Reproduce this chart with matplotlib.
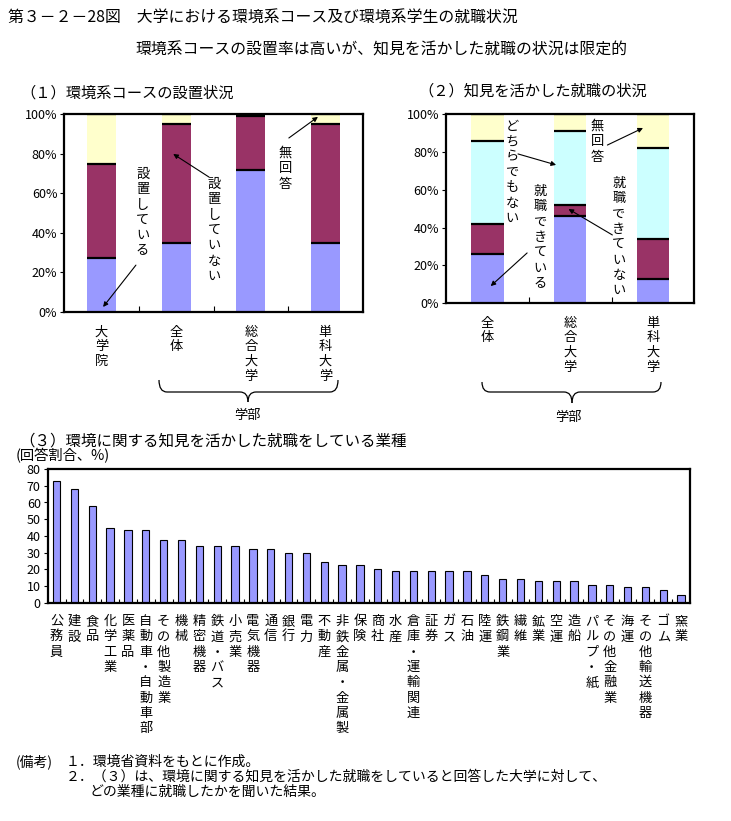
import numpy as np
import matplotlib.pyplot as plt
from matplotlib.path import Path
from matplotlib.patches import PathPatch

plt.rcParams['font.family'] = ['Noto Sans CJK JP', 'DejaVu Sans']

W, H = 731, 821
PT = 72 / 100  # pixel -> point at dpi 100

# (1) 環境系コースの設置状況 (%)
p1_cats = ['大学院', '全体', '総合大学', '単科大学']
p1_yes = [27, 35, 72, 35]
p1_no = [48, 60, 27, 60]
p1_na = [25, 5, 1, 5]

# (2) 知見を活かした就職の状況 (%)
p2_cats = ['全体', '総合大学', '単科大学']
p2_yes = [26, 46, 13]
p2_no = [16, 6, 21]
p2_neither = [44, 39, 48]
p2_na = [14, 9, 18]

# (3) 業種 (回答割合、%)
p3_cats = ['公務員', '建設', '食品', '化学工業', '医薬品', '自動車・自動車部',
           'その他製造業', '機械', '精密機器', '鉄道・バス', '小売業', '電気機器',
           '通信', '銀行', '電力', '不動産', '非鉄金属・金属製', '保険', '商社',
           '水産', '倉庫・運輸関連', '証券', 'ガス', '石油', '陸運', '鉄鋼業',
           '繊維', '鉱業', '空運', '造船', 'パルプ・紙', 'その他金融業', '海運',
           'その他輸送機器', 'ゴム', '窯業']
p3_vals = [73, 68, 58, 45, 43.5, 43.5, 37.5, 37.5, 34, 34, 34, 32, 32, 30, 30,
           24.5, 22.5, 22.5, 20.5, 19, 19, 19, 19, 19, 16.5, 14.5, 14.5, 13, 13,
           13, 11, 11, 9.5, 9.5, 7.5, 5]

BLUE = '#9999FF'
MAROON = '#993366'
YELLOW = '#FFFFCC'
CYAN = '#CCFFFF'

fig = plt.figure(figsize=(W / 100, H / 100), dpi=100)


def add_ax(l, t, r, b):
    return fig.add_axes([l / W, 1 - b / H, (r - l) / W, (b - t) / H])


def vtext(ax, x, y, s, coords='data', pitch=15.3, fs=9.5):
    for k, ch in enumerate(s):
        ax.annotate(ch, xy=(x, y), xycoords=coords, xytext=(0, -k * pitch * PT),
                    textcoords='offset points', ha='center', va='top',
                    fontsize=fs, annotation_clip=False)


def arrow(ax, tail, head):
    ax.annotate('', xy=head, xytext=tail, annotation_clip=False,
                arrowprops=dict(arrowstyle='-|>', color='black', lw=0.8,
                                mutation_scale=7, shrinkA=0, shrinkB=0))


def stacked(ax, cats, series, colors, width=0.39):
    x = np.arange(len(cats))
    bottom = np.zeros(len(x))
    for vals, c in zip(series, colors):
        ax.bar(x, vals, width, bottom=bottom, color=c, edgecolor='none', zorder=2)
        bottom = bottom + np.array(vals)
        ax.hlines(bottom, x - width / 2, x + width / 2, color='black', lw=1.6, zorder=3)
    ax.set_xlim(-0.5, len(x) - 0.5)
    ax.set_ylim(0, 100)
    ax.set_yticks(range(0, 101, 20))
    ax.set_yticklabels([f'{v}%' for v in range(0, 101, 20)], fontsize=9)
    ax.set_xticks(np.arange(len(x) - 1) + 0.5)
    ax.set_xticklabels([])
    ax.tick_params(axis='x', direction='in', length=4, width=0.8)
    ax.tick_params(axis='y', direction='out', length=3, width=0.8, pad=2)
    for sp in ax.spines.values():
        sp.set_linewidth(1.6)
        sp.set_zorder(4)
    for i, c in enumerate(cats):
        vtext(ax, i, -0.07, c, coords=('data', 'axes fraction'), pitch=14.7)


# panel 1
ax1 = add_ax(64.3, 114.3, 362.7, 311.7)
stacked(ax1, p1_cats, [p1_yes, p1_no, p1_na], [BLUE, MAROON, YELLOW])
vtext(ax1, 0.55, 72.8, '設置している')
arrow(ax1, (0.46, 23.6), (0.02, 2.4))
vtext(ax1, 1.51, 67.7, '設置していない')
arrow(ax1, (1.44, 68.2), (0.96, 79.9))
vtext(ax1, 2.46, 83.4, '無回答')
arrow(ax1, (2.51, 88), (2.9, 98.7))

# panel 2
ax2 = add_ax(446, 114, 694.3, 303.3)
stacked(ax2, p2_cats, [p2_yes, p2_no, p2_neither, p2_na], [BLUE, MAROON, CYAN, YELLOW])
vtext(ax2, 0.30, 96.8, 'どちらでもない')
arrow(ax2, (0.37, 78.9), (0.83, 73.1))
vtext(ax2, 0.64, 62.5, '就職できている')
arrow(ax2, (0.48, 26.6), (0.04, 9.1))
vtext(ax2, 1.33, 96.8, '無回答')
arrow(ax2, (1.45, 83.6), (1.88, 92.6))
vtext(ax2, 1.59, 66.7, '就職できていない')
arrow(ax2, (1.51, 36.1), (0.98, 49.8))

# panel 3
ax3 = add_ax(47.7, 469, 690, 603)
x3 = np.arange(len(p3_vals))
ax3.bar(x3, p3_vals, 0.41, color=BLUE, edgecolor='black', lw=0.8)
ax3.set_xlim(-0.5, len(x3) - 0.5)
ax3.set_ylim(0, 80)
ax3.set_yticks(range(0, 81, 10))
ax3.set_yticklabels([str(v) for v in range(0, 81, 10)], fontsize=9)
ax3.set_xticks(x3[:-1] + 0.5)
ax3.set_xticklabels([])
ax3.tick_params(axis='x', direction='in', length=3, width=0.8)
ax3.tick_params(axis='y', direction='out', length=3, width=0.8, pad=2)
for sp in ax3.spines.values():
    sp.set_linewidth(1.6)
for i, c in enumerate(p3_cats):
    vtext(ax3, i, -0.09, c, coords=('data', 'axes fraction'))

# overlay in pixel coordinates for titles, braces and notes
ov = fig.add_axes([0, 0, 1, 1], facecolor='none')
ov.set_xlim(0, W)
ov.set_ylim(H, 0)
ov.axis('off')


def brace(x0, x1, xm, y0, y1, y2, r=8):
    left = [(x0, y0), (x0, y1), (x0 + r, y1), (xm - r, y1), (xm, y1), (xm, y2)]
    right = [(x1, y0), (x1, y1), (x1 - r, y1), (xm + r, y1), (xm, y1), (xm, y2)]
    codes = [Path.MOVETO, Path.CURVE3, Path.CURVE3, Path.LINETO, Path.CURVE3, Path.CURVE3]
    for v in (left, right):
        ov.add_patch(PathPatch(Path(v, codes), fc='none', ec='black', lw=0.9))


brace(159, 338, 248, 380, 392, 402)
ov.text(247, 415, '学部', ha='center', va='center', fontsize=9.5)
brace(482, 661, 572, 382, 392, 403)
ov.text(568, 417, '学部', ha='center', va='center', fontsize=9.5)

ov.text(8, 17, '第３－２－28図　大学における環境系コース及び環境系学生の就職状況',
        va='center', fontsize=11.4)
ov.text(135, 50, '環境系コースの設置率は高いが、知見を活かした就職の状況は限定的',
        va='center', fontsize=11.4)
ov.text(20, 93, '（１）環境系コースの設置状況', va='center', fontsize=11)
ov.text(418, 91, '（２）知見を活かした就職の状況', va='center', fontsize=11)
ov.text(19, 441, '（３）環境に関する知見を活かした就職をしている業種', va='center', fontsize=11.2)
ov.text(16, 456, '(回答割合、%)', va='center', fontsize=10.3)

ov.text(16, 762, '(備考)', va='center', fontsize=10)
ov.text(66, 762, '１．環境省資料をもとに作成。', va='center', fontsize=10)
ov.text(66, 777, '２．（３）は、環境に関する知見を活かした就職をしていると回答した大学に対して、',
        va='center', fontsize=10)
ov.text(90, 792, 'どの業種に就職したかを聞いた結果。', va='center', fontsize=10)

fig.savefig('out.png', dpi=100)
